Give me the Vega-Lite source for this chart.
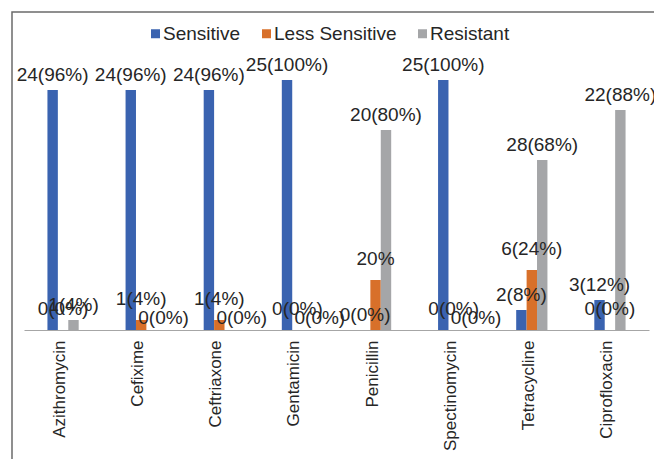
{
  "$schema": "https://vega.github.io/schema/vega-lite/v6.json",
  "width": 644,
  "height": 449,
  "autosize": {"type": "none"},
  "padding": {"left": 12, "top": 12, "right": -2, "bottom": -2},
  "background": "white",
  "config": {
    "view": {"stroke": "#6b6b6b", "strokeWidth": 1.5},
    "font": "Liberation Sans"
  },
  "data": {
    "values": [
      {"drug": "Azithromycin", "series": "Sensitive", "value": 24, "label": "24(96%)"},
      {"drug": "Azithromycin", "series": "Less Sensitive", "value": 0, "label": "0(0%)"},
      {"drug": "Azithromycin", "series": "Resistant", "value": 1, "label": "1(4%)"},
      {"drug": "Cefixime", "series": "Sensitive", "value": 24, "label": "24(96%)"},
      {"drug": "Cefixime", "series": "Less Sensitive", "value": 1, "label": "1(4%)"},
      {"drug": "Cefixime", "series": "Resistant", "value": 0, "label": "0(0%)"},
      {"drug": "Ceftriaxone", "series": "Sensitive", "value": 24, "label": "24(96%)"},
      {"drug": "Ceftriaxone", "series": "Less Sensitive", "value": 1, "label": "1(4%)"},
      {"drug": "Ceftriaxone", "series": "Resistant", "value": 0, "label": "0(0%)"},
      {"drug": "Gentamicin", "series": "Sensitive", "value": 25, "label": "25(100%)"},
      {"drug": "Gentamicin", "series": "Less Sensitive", "value": 0, "label": "0(0%)"},
      {"drug": "Gentamicin", "series": "Resistant", "value": 0, "label": "0(0%)"},
      {"drug": "Penicillin", "series": "Sensitive", "value": 0, "label": "0(0%)"},
      {"drug": "Penicillin", "series": "Less Sensitive", "value": 5, "label": "20%"},
      {"drug": "Penicillin", "series": "Resistant", "value": 20, "label": "20(80%)"},
      {"drug": "Spectinomycin", "series": "Sensitive", "value": 25, "label": "25(100%)"},
      {"drug": "Spectinomycin", "series": "Less Sensitive", "value": 0, "label": "0(0%)"},
      {"drug": "Spectinomycin", "series": "Resistant", "value": 0, "label": "0(0%)"},
      {"drug": "Tetracycline", "series": "Sensitive", "value": 2, "label": "2(8%)"},
      {"drug": "Tetracycline", "series": "Less Sensitive", "value": 6, "label": "6(24%)"},
      {"drug": "Tetracycline", "series": "Resistant", "value": 17, "label": "28(68%)"},
      {"drug": "Ciprofloxacin", "series": "Sensitive", "value": 3, "label": "3(12%)"},
      {"drug": "Ciprofloxacin", "series": "Less Sensitive", "value": 0, "label": "0(0%)"},
      {"drug": "Ciprofloxacin", "series": "Resistant", "value": 22, "label": "22(88%)"}
    ]
  },
  "encoding": {
    "x": {
      "field": "drug",
      "type": "nominal",
      "sort": null,
      "scale": {"range": [12, 637], "paddingInner": 0.6, "paddingOuter": 0.3},
      "axis": {
        "title": null,
        "labelAngle": 270,
        "labelAlign": "right",
        "labelBaseline": "middle",
        "labelFontSize": 17,
        "labelColor": "#262626",
        "labelPadding": 10,
        "labelOffset": -3,
        "labelLimit": 0,
        "ticks": false,
        "domainColor": "#a6a6a6",
        "domainWidth": 1,
        "offset": -131
      }
    },
    "xOffset": {
      "field": "series",
      "type": "nominal",
      "sort": ["Sensitive", "Less Sensitive", "Resistant"],
      "scale": {"domain": ["Sensitive", "Less Sensitive", "Resistant"], "paddingInner": 0, "paddingOuter": 0}
    },
    "y": {
      "field": "value",
      "type": "quantitative",
      "scale": {"domain": [0, 30], "range": [318, 18], "nice": false, "zero": true},
      "axis": null
    }
  },
  "layer": [
    {
      "mark": {"type": "bar"},
      "encoding": {
        "color": {
          "field": "series",
          "type": "nominal",
          "sort": ["Sensitive", "Less Sensitive", "Resistant"],
          "scale": {"domain": ["Sensitive", "Less Sensitive", "Resistant"], "range": ["#3A63B0", "#D8702A", "#A5A6A8"]},
          "legend": {
            "orient": "none",
            "legendX": 134,
            "legendY": 12,
            "direction": "horizontal",
            "title": null,
            "symbolType": "square",
            "symbolSize": 81,
            "symbolStrokeWidth": 0,
            "labelFontSize": 19,
            "labelColor": "#262626",
            "labelOffset": -2,
            "columnPadding": 16
          }
        }
      }
    },
    {
      "transform": [{"filter": "datum.series === 'Sensitive'"}],
      "mark": {"type": "text", "baseline": "bottom", "dy": -5, "fontSize": 19, "color": "#262626"},
      "encoding": {"text": {"field": "label", "type": "nominal"}}
    },
    {
      "transform": [{"filter": "datum.series === 'Less Sensitive'"}],
      "mark": {"type": "text", "baseline": "bottom", "dy": -11, "fontSize": 19, "color": "#262626"},
      "encoding": {"text": {"field": "label", "type": "nominal"}}
    },
    {
      "transform": [{"filter": "datum.series === 'Resistant' && datum.value > 0"}],
      "mark": {"type": "text", "baseline": "bottom", "dy": -5, "fontSize": 19, "color": "#262626"},
      "encoding": {"text": {"field": "label", "type": "nominal"}}
    },
    {
      "transform": [{"filter": "datum.series === 'Resistant' && datum.value === 0"}],
      "mark": {"type": "text", "baseline": "bottom", "dx": 12, "dy": -2, "fontSize": 19, "color": "#262626"},
      "encoding": {"text": {"field": "label", "type": "nominal"}}
    }
  ]
}
